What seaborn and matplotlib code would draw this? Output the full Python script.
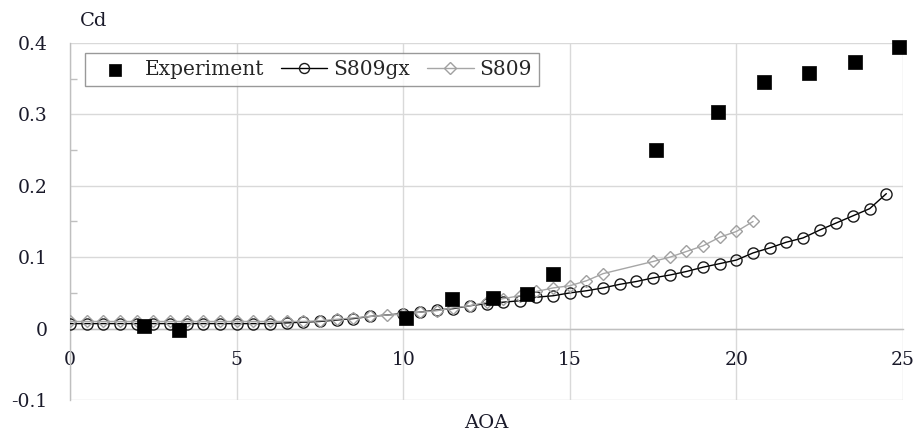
import numpy as np
import pandas as pd
import matplotlib
matplotlib.use("Agg")
import matplotlib.pyplot as plt
import seaborn as sns

# Experimental drag coefficient
exp_aoa = [2.22, 3.27, 10.08, 11.46, 12.71, 13.71, 14.49, 17.59, 19.44, 20.82, 22.18, 23.55, 24.87]
exp_cd = [0.003, -0.002, 0.015, 0.041, 0.043, 0.048, 0.077, 0.250, 0.303, 0.346, 0.358, 0.374, 0.394]

# S809gx computed curve
gx_aoa = [0.0, 0.5, 1.0, 1.5, 2.0, 2.5, 3.0, 3.5, 4.0, 4.5, 5.0, 5.5,
          6.0, 6.5, 7.0, 7.5, 8.0, 8.5, 9.0,
          10.0, 10.5, 11.0, 11.5, 12.0, 12.5, 13.0, 13.5, 14.0, 14.5,
          15.0, 15.5, 16.0, 16.5, 17.0, 17.5, 18.0, 18.5, 19.0, 19.5,
          20.0, 20.5, 21.0, 21.5, 22.0, 22.5, 23.0, 23.5, 24.0, 24.5]
gx_cd = [0.007, 0.007, 0.007, 0.007, 0.007, 0.007, 0.007, 0.007, 0.007, 0.007, 0.007, 0.007,
         0.007, 0.008, 0.009, 0.010, 0.012, 0.014, 0.017,
         0.021, 0.023, 0.026, 0.028, 0.032, 0.035, 0.037, 0.039, 0.044, 0.046,
         0.050, 0.053, 0.057, 0.062, 0.066, 0.071, 0.075, 0.080, 0.086, 0.091,
         0.096, 0.106, 0.113, 0.121, 0.127, 0.138, 0.148, 0.158, 0.168, 0.189]

# S809 curve
s809_aoa = [0.0, 0.5, 1.0, 1.5, 2.0, 2.5, 3.0, 3.5, 4.0, 4.5, 5.0, 5.5, 6.0, 6.5, 7.0,
            7.5, 8.0, 8.5, 9.0, 9.5, 10.0, 10.5, 11.0, 11.5, 12.0, 12.5, 13.0, 13.5,
            14.0, 14.5, 15.0, 15.5, 16.0,
            17.5, 18.0, 18.5, 19.0, 19.5, 20.0, 20.5]
s809_cd = [0.010, 0.010, 0.010, 0.010, 0.010, 0.010, 0.010, 0.010, 0.010, 0.010, 0.010, 0.010, 0.010, 0.010, 0.010,
           0.011, 0.013, 0.015, 0.017, 0.019, 0.020, 0.023, 0.025, 0.029, 0.032, 0.037, 0.042, 0.046,
           0.052, 0.057, 0.060, 0.067, 0.077,
           0.094, 0.100, 0.108, 0.116, 0.128, 0.136, 0.150]

xticks = [0, 5, 10, 15, 20, 25]
yticks = [-0.1, 0, 0.1, 0.2, 0.3, 0.4]
ytick_labels = ['-0.1', '0', '0.1', '0.2', '0.3', '0.4']

sns.set_style("white")
plt.rcParams['font.family'] = ['DejaVu Serif']
txt_color = '#1a1a2a'

fig = plt.figure(figsize=(9.19, 4.38), dpi=100)
ax = fig.add_axes([70 / 919, 1 - 400 / 438, (903 - 70) / 919, (400 - 43) / 438])

df_exp = pd.DataFrame({'AOA': exp_aoa, 'Cd': exp_cd})
df_gx = pd.DataFrame({'AOA': gx_aoa, 'Cd': gx_cd})
df_s = pd.DataFrame({'AOA': s809_aoa, 'Cd': s809_cd})

sns.lineplot(data=df_gx, x='AOA', y='Cd', ax=ax, sort=False, estimator=None,
             color='black', linewidth=1.0, marker='o', markersize=8,
             markerfacecolor='none', markeredgecolor='#1a1a1a', markeredgewidth=1.0,
             label='S809gx', zorder=3)
sns.lineplot(data=df_s, x='AOA', y='Cd', ax=ax, sort=False, estimator=None,
             color='#a6a6a6', linewidth=1.0, marker='D', markersize=6.5,
             markerfacecolor='none', markeredgecolor='#a0a0a0', markeredgewidth=1.0,
             label='S809', zorder=3)
sns.scatterplot(data=df_exp, x='AOA', y='Cd', ax=ax, marker='s', s=95,
                color='black', edgecolor='black', linewidth=0.5,
                label='Experiment', zorder=4, clip_on=False)

ax.set_xlim(0, 25)
ax.set_ylim(-0.1, 0.4)
ax.set_xticks(xticks)
ax.set_yticks(yticks)
ax.set_yticklabels(ytick_labels)
ax.set_yticks([0.05, 0.15, 0.25, 0.35], minor=True)
ax.grid(True, which='major', color='#d9d9d9', linewidth=1.0)
ax.set_axisbelow(True)

for side in ['top', 'right']:
    ax.spines[side].set_visible(False)
ax.spines['left'].set_color('#bfbfbf')
ax.spines['left'].set_linewidth(1.0)
ax.spines['bottom'].set_position(('data', 0))
ax.spines['bottom'].set_color('#bfbfbf')
ax.spines['bottom'].set_linewidth(1.0)

ax.tick_params(axis='x', which='major', length=0, pad=16, labelsize=13.5, labelcolor=txt_color)
ax.tick_params(axis='y', which='major', length=0, pad=16, labelsize=13.5, labelcolor=txt_color)
ax.tick_params(axis='y', which='minor', direction='in', length=5, width=1, color='#bfbfbf', left=True)

ax.set_xlabel('')
ax.set_ylabel('')
fig.text((70 + 903) / 2 / 919, 1 - 423 / 438, 'AOA', ha='center', va='center',
         fontsize=14, color=txt_color)
fig.text(80 / 919, 1 - 21 / 438, 'Cd', ha='left', va='center', fontsize=14, color=txt_color)

h, l = ax.get_legend_handles_labels()
order = [l.index('Experiment'), l.index('S809gx'), l.index('S809')]
leg = ax.legend([h[i] for i in order], [l[i] for i in order], ncol=3,
                loc='upper left', bbox_to_anchor=(85 / 919, 1 - 53 / 438),
                bbox_transform=fig.transFigure, borderaxespad=0,
                fontsize=14.5, frameon=True, fancybox=False, edgecolor='#808080',
                handlelength=2.3, handletextpad=0.3, columnspacing=0.85,
                borderpad=0.35, markerscale=0.9)
leg.get_frame().set_linewidth(1.0)

fig.savefig('out.png', dpi=100)
